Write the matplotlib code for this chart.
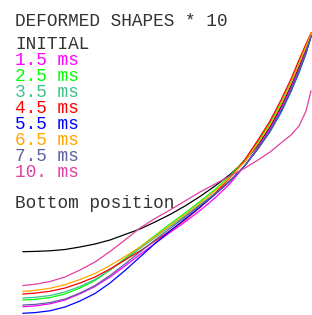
import matplotlib
matplotlib.use('Agg')
import matplotlib.pyplot as plt

# sample positions along the beam (screen-like units, left to right)
pos = [23, 35, 50, 65, 80, 95, 110, 125, 140, 155, 170, 185,
	200, 215, 230, 245, 258, 270, 281, 291, 299, 306, 311]

initial = [251.7, 251.4, 250.8, 249.5, 247, 244, 240, 234.5, 229, 222, 214.5, 206,
	196.5, 186, 174.5, 161, 145, 127, 107, 86, 67, 49.5, 35]
ms_1_5 = [306.7, 305.9, 303.8, 300, 293.8, 286.5, 277, 266, 254.5, 243.5, 232.5, 222,
	210.5, 198, 183.5, 165.5, 147, 129, 109, 88, 69, 51, 35.5]
ms_2_5 = [300, 299.4, 297.6, 294, 288, 280.5, 270, 258.5, 247, 235.5, 224, 213,
	201.5, 189.5, 176, 159.5, 141.5, 123, 103, 82, 63, 46, 33]
ms_3_5 = [298, 297.4, 295.6, 292, 286.5, 279.5, 270, 259.5, 248.5, 237.5, 226.5, 216,
	204.5, 193.5, 181, 165.5, 149, 132, 113, 92, 73, 54, 37]
ms_4_5 = [294, 293.1, 291.3, 288, 283, 277, 269, 260, 251, 241, 231, 220,
	207.5, 193.5, 178, 159.5, 140, 121, 100, 79, 60, 44, 33]
ms_5_5 = [313.3, 312.6, 310.8, 307, 301, 293.5, 283, 270.5, 257, 243.5, 231, 219,
	207, 194.5, 181, 165.5, 148.5, 131, 111.5, 90.5, 71.5, 53, 36.5]
ms_6_5 = [291.5, 290.4, 288.3, 284.7, 279.5, 273.5, 265.5, 256.5, 247, 236.5, 225.5, 214.5,
	203, 191, 177.5, 161.5, 143.5, 125, 104.5, 83, 64, 46.5, 33.5]
ms_7_5 = [305, 304.4, 302.6, 299, 293, 285.5, 275.5, 264, 252, 240, 228.5, 217,
	205.5, 194, 181, 165.5, 148.5, 131, 111, 90, 71, 52.5, 36]
ms_10 = [285.5, 284.3, 281.5, 277, 270, 262, 251.5, 240, 228, 218.5, 210, 201,
	192, 184, 176, 168, 160, 152, 143, 135, 126, 111, 91]

labels = ['INITIAL', '1.5 ms', '2.5 ms', '3.5 ms', '4.5 ms', '5.5 ms', '6.5 ms', '7.5 ms', '10. ms']
colors = ['black', '#ff00ff', '#00ff00', '#3cc08a', '#ff0000', '#0000ff', '#ffa500', '#5f5f9f', '#e040a0']
shapes = [initial, ms_1_5, ms_2_5, ms_3_5, ms_4_5, ms_5_5, ms_6_5, ms_7_5, ms_10]

fig = plt.figure(figsize=(3.12, 3.15), dpi=100)
ax = fig.add_axes([0, 0, 1, 1])
ax.set_xlim(0, 312)
ax.set_ylim(315, 0)
ax.axis('off')

for ys, c in zip(shapes, colors):
	ax.plot(pos, ys, color=c, lw=0.9)

font = dict(family='Liberation Mono', fontsize=12.8, va='baseline', ha='left')
ax.text(15, 26, 'DEFORMED SHAPES * 10', color='#333333', **font)
for i, (lab, c) in enumerate(zip(labels, colors)):
	ax.text(15, 49 + 16 * i, lab, color=c if c != 'black' else '#333333', **font)
ax.text(15, 208, 'Bottom position', color='#333333', **font)

plt.savefig('out.png', dpi=100)
